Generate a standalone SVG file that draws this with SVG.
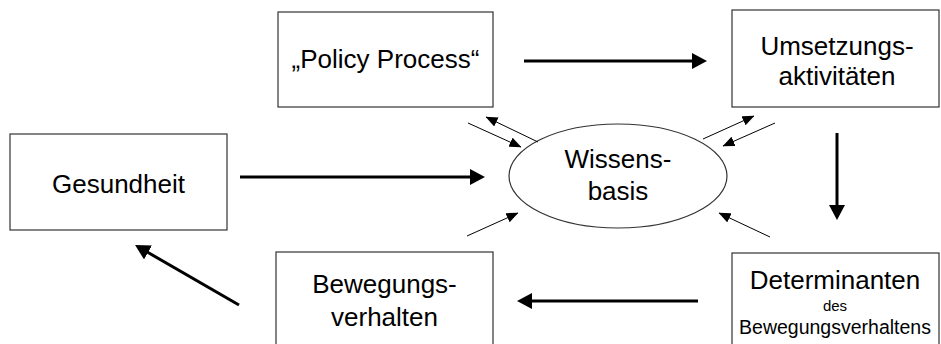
<svg xmlns="http://www.w3.org/2000/svg" width="941" height="344" viewBox="0 0 941 344">
<style>
.box{fill:#fff;stroke:#333;stroke-width:1.2}
.t{font-family:"Liberation Sans",Arial,sans-serif;font-size:26px;fill:#000;text-anchor:middle}
.thick{stroke:#000;stroke-width:3;fill:none}
.thin{stroke:#000;stroke-width:1;fill:none}
</style>
<defs>
<marker id="ah" markerUnits="userSpaceOnUse" viewBox="0 0 15 16" markerWidth="15" markerHeight="16" refX="5" refY="8" orient="auto">
<path d="M0,0 L15,8 L0,16 Z" fill="#000"/>
</marker>
<marker id="as" markerUnits="userSpaceOnUse" viewBox="0 0 12 10" markerWidth="12" markerHeight="10" refX="11.5" refY="5" orient="auto">
<path d="M0,0 L12,5 L0,10 Z" fill="#000"/>
</marker>
</defs>
<rect width="941" height="344" fill="#fff"/>
<g id="policy">
<rect class="box" x="278" y="12" width="215" height="95"/>
<text class="t" x="385.5" y="68">„Policy Process“</text>
</g>
<g id="umsetzung">
<rect class="box" x="732" y="10" width="207" height="97"/>
<text class="t" x="837" y="55">Umsetzungs-</text>
<text class="t" x="837" y="85">aktivitäten</text>
</g>
<g id="gesundheit">
<rect class="box" x="10" y="134" width="217" height="96"/>
<text class="t" x="118.5" y="193">Gesundheit</text>
</g>
<g id="wissensbasis">
<ellipse class="box" cx="618" cy="176" rx="109" ry="52"/>
<text class="t" x="618" y="168">Wissens-</text>
<text class="t" x="618" y="200">basis</text>
</g>
<g id="determinanten">
<rect class="box" x="732" y="253" width="207" height="100"/>
<text class="t" x="835" y="289">Determinanten</text>
<text class="t" x="835" y="311" style="font-size:15px">des</text>
<text class="t" x="835" y="334" style="font-size:19.5px">Bewegungsverhaltens</text>
</g>
<g id="bewegungsverhalten">
<rect class="box" x="276" y="252" width="217" height="100"/>
<text class="t" x="384.5" y="293">Bewegungs-</text>
<text class="t" x="384.5" y="326">verhalten</text>
</g>
<g id="connectors">
<line class="thick" x1="524" y1="61" x2="697" y2="61" marker-end="url(#ah)"/>
<line class="thick" x1="837" y1="133" x2="837" y2="210" marker-end="url(#ah)"/>
<line class="thick" x1="698" y1="301" x2="527" y2="301" marker-end="url(#ah)"/>
<line class="thick" x1="240" y1="177" x2="475" y2="177" marker-end="url(#ah)"/>
<line class="thick" x1="239" y1="305" x2="143.7" y2="250" marker-end="url(#ah)"/>
<line class="thin" x1="538" y1="142" x2="486" y2="117" marker-end="url(#as)"/>
<line class="thin" x1="468" y1="123" x2="521" y2="147" marker-end="url(#as)"/>
<line class="thin" x1="703" y1="139" x2="754" y2="116" marker-end="url(#as)"/>
<line class="thin" x1="775" y1="123" x2="723" y2="146" marker-end="url(#as)"/>
<line class="thin" x1="467" y1="236" x2="518" y2="213" marker-end="url(#as)"/>
<line class="thin" x1="770" y1="237" x2="719" y2="213" marker-end="url(#as)"/>
</g>
</svg>
